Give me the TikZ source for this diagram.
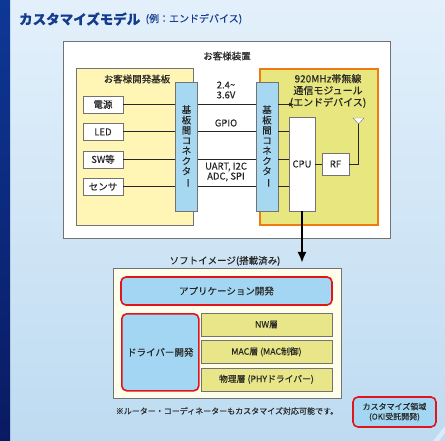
\documentclass[tikz,border=0pt]{standalone}
\usepackage{fontspec}
\setmainfont{Noto Sans CJK JP}[FakeBold=0.15]
\usepackage{graphicx}
\usetikzlibrary{positioning}
\usetikzlibrary{arrows.meta}
\definecolor{bgtop}{HTML}{E3F0FB}
\definecolor{bgbot}{HTML}{BEDBF1}
\definecolor{barblue}{HTML}{0E3896}
\definecolor{bardark}{HTML}{0A1A62}
\definecolor{titleblue}{HTML}{143C8E}
\definecolor{boardyel}{HTML}{FFF5B4}
\definecolor{connblue}{HTML}{A6D8F2}
\definecolor{modyel}{HTML}{E8E67E}
\definecolor{layeryel}{HTML}{E8E688}
\definecolor{modorange}{HTML}{F07A12}
\definecolor{custred}{HTML}{E2141C}
\definecolor{custblue}{HTML}{A2D6F2}
\definecolor{softcream}{HTML}{FFFEEA}
\def\connText{基\\板\\間\\コ\\ネ\\ク\\タ\\\rotatebox[origin=c]{-90}{ー}}

\begin{document}
\begin{tikzpicture}[x=1pt,y=-1pt]
\tikzstyle{box}=[rectangle, draw=black!55, inner sep=0pt, text=black!85, font=\fontsize{9.5}{10}\selectfont]
\tikzstyle{part}=[box, fill=white, minimum width=40pt, minimum height=17pt]
\tikzstyle{conn}=[box, fill=connblue, minimum width=22pt, minimum height=129pt, align=center, font=\fontsize{9.5}{10.2}\selectfont]
\tikzstyle{layer}=[box, fill=layeryel, minimum width=131pt, minimum height=23pt, font=\fontsize{8.8}{9}\selectfont]
\tikzstyle{cust}=[rectangle, rounded corners=5pt, draw=custred, line width=1.6pt, fill=custblue, inner sep=0pt, text=black!85, align=center]
\tikzstyle{lbl}=[inner sep=0pt, text=black!85, align=center, font=\fontsize{9.5}{10}\selectfont]
\tikzstyle{wire}=[draw=black!85, line width=0.8pt]
\useasboundingbox (0,0) rectangle (445,441);

% background and side bar
\shade[top color=bgtop, bottom color=bgbot] (0,0) rectangle (445,441);
\fill[white, opacity=0.45] (433,441) -- (445,426) -- (445,433) -- (439,441) -- cycle;
\shade[top color=barblue, bottom color=bardark] (0,0) rectangle (10,441);

\node[anchor=west, inner sep=0pt, text=titleblue, font=\fontsize{13.5}{15}\selectfont\bfseries] (title) at (19,19) {カスタマイズモデル};
\node[inner sep=0pt, text=titleblue, font=\fontsize{10}{11}\selectfont] (subtitle) [right=5pt of title] {(例：エンドデバイス)};

% customer device
\node[box, fill=white, minimum width=327pt, minimum height=197pt, anchor=north west] (device) at (63,41) {};
\node[lbl] (devicelbl) at (227,56) {お客様装置};

\node[box, fill=boardyel, minimum width=117pt, minimum height=157pt, anchor=north west] (board) at (76,68) {};
\node[lbl] (boardlbl) at (137,79) {お客様開発基板};

\node[part] (power) at (103,104.5) {電源};
\node[part] (led) [below=10pt of power] {LED};
\node[part] (sw) [below=10pt of led] {SW等};
\node[part] (sensor) [below=10pt of sw] {センサ};

\node[rectangle, draw=modorange, line width=1.6pt, fill=modyel, minimum width=118pt, minimum height=156pt, anchor=north west] (module) at (259,68) {};
\node[lbl, font=\fontsize{10}{11.8}\selectfont] (modulelbl) at (328,91) {920MHz帯無線\\通信モジュール\\(エンドデバイス)};

\node[conn] (connL) at (186.5,146.5) {\connText};
\node[conn] (connR) at (267,146.5) {\connText};

\node[box, fill=white, minimum width=26pt, minimum height=94pt] (cpu) at (302,164) {CPU};
\node[box, fill=white, minimum width=27pt, minimum height=22pt] (rf) at (335.5,164) {RF};
\coordinate (ant) at (358.5,124);
\draw[fill=white, draw=black!55] (353,118) -- (364,118) -- (ant) -- cycle;

\path (power) edge [wire] (power -| connL.west);
\path (led) edge [wire] (led -| connL.west);
\path (sw) edge [wire] (sw -| connL.west);
\path (sensor) edge [wire] (sensor -| connL.west);

\path (connL.east |- power) edge [wire] (connR.west |- power);
\path (connL.east |- led) edge [wire] (connR.west |- led);
\path (connL.east |- sw) edge [wire] (connR.west |- sw);
\path (connL.east |- sensor) edge [wire] (connR.west |- sensor);

\node[lbl] (vlbl) at (226,90) {2.4\string~\\3.6V};
\node[lbl] (gpiolbl) at (226,123) {GPIO};
\node[lbl] (seriallbl) at (226,172) {UART, I2C\\ADC, SPI};

\coordinate (pwrend) at (294,104.5);
\path (connR.east |- power) edge [wire, -{Latex[length=5pt,width=4pt]}] (pwrend);
\path (connR.east |- led) edge [wire] (cpu.west |- led);
\path (connR.east |- sw) edge [wire] (cpu.west |- sw);
\path (connR.east |- sensor) edge [wire] (cpu.west |- sensor);
\path (cpu) edge [wire] (rf);
\draw[wire] (rf.east) -| (ant);

% software image
\coordinate (softtop) at (302,263);
\draw[line width=2.2pt, -{Latex[length=11pt,width=9pt]}] (cpu.south) -- (softtop);

\node[box, fill=softcream, minimum width=228pt, minimum height=130pt, anchor=north west] (soft) at (113,268) {};
\node[lbl] (softlbl) at (225,261) {ソフトイメージ(搭載済み)};

\node[cust, minimum width=211pt, minimum height=28pt, font=\fontsize{9.5}{10}\selectfont] (app) at (226.5,291) {アプリケーション開発};
\node[cust, minimum width=77pt, minimum height=77pt, anchor=north west, font=\fontsize{9.5}{10}\selectfont] (driver) at (121,313) {ドライバー開発};

\node[layer] (nw) at (266.5,324.5) {NW層};
\node[layer] (mac) [below=4pt of nw] {MAC層 (MAC制御)};
\node[layer] (phy) [below=4pt of mac] {物理層 (PHYドライバー)};

\node[lbl, font=\fontsize{8}{9}\selectfont] (note) at (227,411) {※ルーター・コーディネーターもカスタマイズ対応可能です。};

\node[cust, minimum width=83pt, minimum height=30pt, font=\fontsize{8}{10}\selectfont] (legend) at (394.5,412) {カスタマイズ領域\\(OKI受託開発)};
\end{tikzpicture}
\end{document}
